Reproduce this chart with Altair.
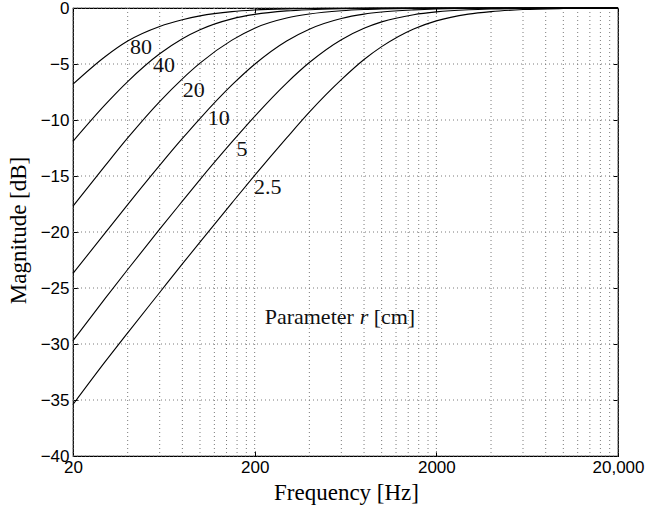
import altair as alt
import pandas as pd

# ---- data ----
freq_hz = [20, 30, 40, 60, 80, 100, 150, 200, 300, 400, 600, 800, 1000, 1500,
           2000, 3000, 4000, 6000, 10000, 20000]
r_names = ["80", "40", "20", "10", "5", "2.5"]
mag_80 = [-6.8, -4.35, -2.95, -1.65, -1.05, -0.7, -0.32, -0.18, -0.08, -0.045, -0.02,
          -0.01, -0.007, 0, 0, 0, 0, 0, 0, 0]
mag_40 = [-11.9, -8.65, -6.57, -4.09, -2.74, -1.94, -0.97, -0.57, -0.26, -0.15, -0.07,
          -0.04, -0.02, -0.01, -0.01, 0, 0, 0, 0, 0]
mag_20 = [-17.7, -14.1, -11.6, -8.35, -6.32, -4.92, -2.87, -1.8, -0.9, -0.54, -0.25,
          -0.14, -0.09, -0.04, -0.02, -0.01, 0, 0, 0, 0]
mag_10 = [-23.7, -20.1, -17.55, -14.05, -11.65, -9.87, -6.87, -5.02, -2.94, -1.89, -0.94,
          -0.55, -0.36, -0.17, -0.09, -0.04, -0.02, -0.01, 0, 0]
mag_5 = [-29.7, -25.95, -23.35, -19.75, -17.25, -15.32, -11.96, -9.67, -6.7, -4.87, -2.83,
         -1.81, -1.24, -0.6, -0.35, -0.16, -0.09, -0.04, -0.014, 0]
mag_2_5 = [-35.4, -31.6, -29.0, -25.4, -22.85, -20.9, -17.4, -14.95, -11.6, -9.3, -6.4,
           -4.6, -3.45, -1.87, -1.15, -0.55, -0.32, -0.14, -0.05, -0.01]

label_freq = [47.4, 63.4, 92.3, 127, 170.4, 236]
label_db = [-3.5, -5.1, -7.3, -9.8, -12.6, -16.0]

note_freq = [227]
note_db = [-27.6]

x_tick_values = [20, 200, 2000, 20000]
x_grid_values = [20, 40, 60, 80, 100, 120, 140, 160, 180,
                 200, 400, 600, 800, 1000, 1200, 1400, 1600, 1800,
                 2000, 4000, 6000, 8000, 10000, 12000, 14000, 16000, 18000, 20000]
y_tick_values = [-40, -35, -30, -25, -20, -15, -10, -5, 0]

# ---- tables ----
series = dict(zip(r_names, [mag_80, mag_40, mag_20, mag_10, mag_5, mag_2_5]))
rows = [{"r": k, "f": f, "db": v} for k, vals in series.items() for f, v in zip(freq_hz, vals)]
df = pd.DataFrame(rows)
df_lab = pd.DataFrame({"f": label_freq, "db": label_db, "t": r_names})
df_note = pd.DataFrame({"f": note_freq, "db": note_db})

xs = alt.Scale(type="log", domain=[20, 20000], nice=False)
ys = alt.Scale(domain=[-40, 0], nice=False)

grid_dash = [1, 3]
grid_color = "#7a7a7a"
serif = "Liberation Serif"
sans = "Liberation Sans"

gx = alt.Chart(pd.DataFrame({"f": x_grid_values})).mark_rule(
    strokeDash=grid_dash, color=grid_color, strokeWidth=1
).encode(x=alt.X("f:Q", scale=xs, axis=None))

gy = alt.Chart(pd.DataFrame({"db": y_tick_values})).mark_rule(
    strokeDash=grid_dash, color=grid_color, strokeWidth=1
).encode(y=alt.Y("db:Q", scale=ys, axis=None))

bottom_axis = alt.Axis(
    orient="bottom", values=x_tick_values, offset=-5, tickSize=5, tickColor="black",
    tickWidth=1, domain=False, grid=False,
    labelExpr="datum.value == 20000 ? '20,000' : format(datum.value, 'd')",
    labelFont=sans, labelFontSize=17, labelColor="black", labelPadding=3,
    labelFlush=False, labelOverlap=False,
    title="Frequency [Hz]", titleFont=serif, titleFontSize=23, titleFontWeight="normal",
    titleColor="black", titleX=273, titleY=41, titleAlign="center", titleBaseline="middle",
)
left_axis = alt.Axis(
    orient="left", values=y_tick_values, offset=-5, tickSize=5, tickColor="black",
    tickWidth=1, domain=False, grid=False,
    labelFont=sans, labelFontSize=17, labelColor="black", labelPadding=4,
    labelOverlap=False,
    title="Magnitude [dB]", titleFont=serif, titleFontSize=23, titleFontWeight="normal",
    titleColor="black", titleX=-60, titleY=222, titleAngle=270, titleAlign="center",
    titleBaseline="middle",
)
top_axis = alt.Axis(
    orient="top", values=x_tick_values, offset=-5, tickSize=5, tickColor="black",
    tickWidth=1, domain=False, grid=False, labels=False, title=None,
)
right_axis = alt.Axis(
    orient="right", values=y_tick_values, offset=-5, tickSize=5, tickColor="black",
    tickWidth=1, domain=False, grid=False, labels=False, title=None,
)

lines = alt.Chart(df).mark_line(
    color="black", strokeWidth=1.1, interpolate="monotone"
).encode(
    x=alt.X("f:Q", scale=xs, axis=bottom_axis),
    y=alt.Y("db:Q", scale=ys, axis=left_axis),
    detail="r:N",
)

ghost = alt.Chart(df).mark_line(opacity=0).encode(
    x=alt.X("f:Q", scale=xs, axis=top_axis),
    y=alt.Y("db:Q", scale=ys, axis=right_axis),
    detail="r:N",
)

labels = alt.Chart(df_lab).mark_text(
    font=serif, fontSize=22, color="#111", align="center", baseline="middle"
).encode(
    x=alt.X("f:Q", scale=xs, axis=None),
    y=alt.Y("db:Q", scale=ys, axis=None),
    text="t:N",
)

note_base = alt.Chart(df_note).encode(
    x=alt.X("f:Q", scale=xs, axis=None),
    y=alt.Y("db:Q", scale=ys, axis=None),
)
note1 = note_base.mark_text(font=serif, fontSize=22, color="#111", align="left",
                            baseline="middle", text="Parameter")
note2 = note_base.mark_text(font=serif, fontSize=22, color="#111", align="left",
                            baseline="middle", fontStyle="italic", text="r", dx=95)
note3 = note_base.mark_text(font=serif, fontSize=22, color="#111", align="left",
                            baseline="middle", text="[cm]", dx=109)

chart = alt.layer(gx, gy, lines, labels, note1, note2, note3, ghost).resolve_axis(
    x="independent", y="independent"
).properties(
    width=545, height=448,
    autosize=alt.AutoSizeParams(type="none"),
    padding={"left": 73, "top": 8, "right": 27, "bottom": 52},
    background="white",
).configure_view(stroke="black", strokeWidth=1.2)

chart.save("out.html", embed_options={"renderer": "svg", "actions": False})
